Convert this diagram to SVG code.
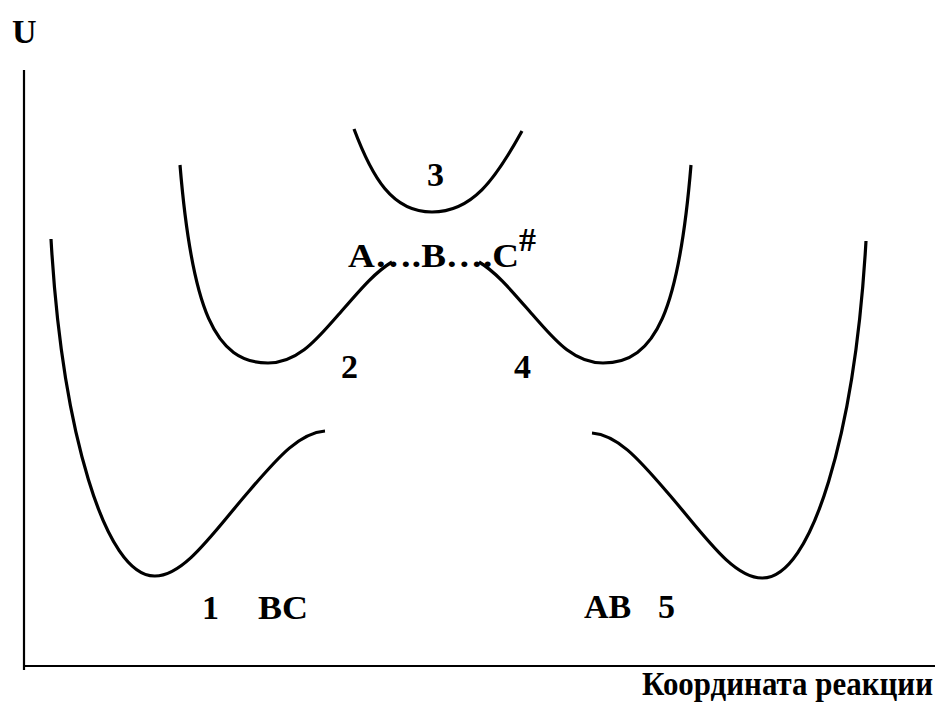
<svg xmlns="http://www.w3.org/2000/svg" width="944" height="706" viewBox="0 0 944 706">
<style>
.axis{stroke:#000;stroke-width:2.2;fill:none}
.curve{stroke:#000;stroke-width:3.2;fill:none;stroke-linecap:butt}
text{font-family:"Liberation Serif","Times New Roman",serif;font-weight:bold;fill:#000;font-size:34px}
</style>
<rect width="944" height="706" fill="#fff"/>
<g id="axes">
<line class="axis" x1="24" y1="70" x2="24" y2="670"/>
<line class="axis" x1="23" y1="666" x2="935" y2="666"/>
<text x="12" y="43" font-size="36">U</text>
<text x="642" y="695" font-size="30" textLength="291" lengthAdjust="spacingAndGlyphs">Координата реакции</text>
</g>
<g id="curve1">
<path class="curve" d="M51,239 C62,430 105,577 155,576 C185,576 215,530 250,490 C280,455 300,433 325,431"/>
<text x="202" y="619">1</text>
<text x="258" y="619" textLength="50" lengthAdjust="spacingAndGlyphs">BC</text>
</g>
<g id="curve2">
<path class="curve" d="M180,165 C192,310 215,363 268,363 C300,363 320,335 340,313 C360,290 375,272 392,262"/>
<text x="341" y="378">2</text>
</g>
<g id="curve3">
<path class="curve" d="M354,129 C372,177 392,212 432,212 C472,212 495,180 522,131"/>
<text x="427" y="186">3</text>
</g>
<g id="transition">
<text x="348" y="267" textLength="171" lengthAdjust="spacingAndGlyphs">A….B….C</text>
<text x="519" y="251" font-size="19">#</text>
</g>
<g id="curve4">
<path class="curve" d="M691,165 C679,310 656,363 603,363 C571,363 551,335 531,313 C511,290 496,272 479,262"/>
<text x="514" y="378">4</text>
</g>
<g id="curve5">
<path class="curve" d="M866,241 C855,432 812,579 762,578 C732,578 702,532 667,492 C637,457 617,435 592,433"/>
<text x="584" y="618">AB</text>
<text x="658" y="618">5</text>
</g>
</svg>
